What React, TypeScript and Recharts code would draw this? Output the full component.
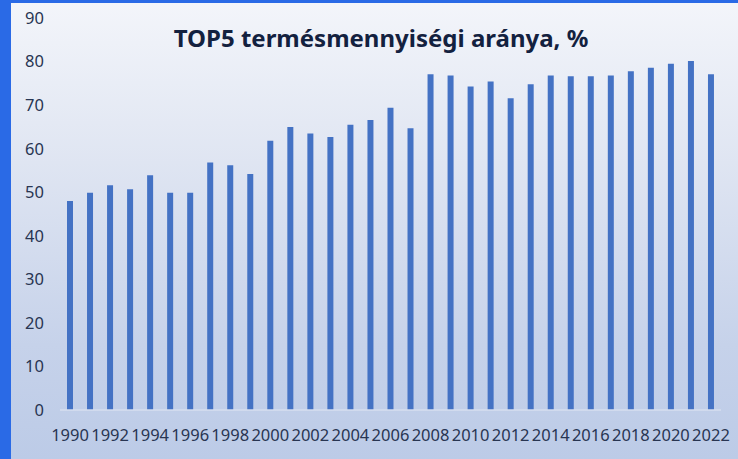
import { BarChart, Bar, XAxis, YAxis } from 'recharts'

const years = [
  '1990', '1991', '1992', '1993', '1994', '1995', '1996', '1997', '1998', '1999',
  '2000', '2001', '2002', '2003', '2004', '2005', '2006', '2007', '2008', '2009',
  '2010', '2011', '2012', '2013', '2014', '2015', '2016', '2017', '2018', '2019',
  '2020', '2021', '2022'
]

const shares = [
  48.0, 49.9, 51.6, 50.7, 53.9, 49.9, 49.9, 56.8, 56.2, 54.2,
  61.8, 65.0, 63.5, 62.7, 65.5, 66.6, 69.4, 64.7, 77.1, 76.8,
  74.3, 75.4, 71.6, 74.8, 76.8, 76.6, 76.6, 76.8, 77.8, 78.6,
  79.5, 80.1, 77.1
]

const yTicks = [0, 10, 20, 30, 40, 50, 60, 70, 80, 90]

const title = 'TOP5 termésmennyiségi aránya, %'

export default function App() {
  const data = years.map((year, i) => ({ year, share: shares[i] }))
  const font = '"Noto Sans", sans-serif'

  return (
    <div style={{ position: 'absolute', left: 0, top: 0, width: 738, height: 459, background: '#2a6ae6', overflow: 'hidden' }}>
      <div
        style={{
          position: 'absolute', left: 11, top: 3, width: 727, height: 456,
          background: 'linear-gradient(180deg, #f3f5fa 0%, #dfe5f2 35%, #c6d2ea 75%, #bccbe7 100%)'
        }}
      />
      <div
        style={{
          position: 'absolute', left: 0, top: 21, width: 762, textAlign: 'center',
          fontFamily: font, fontWeight: 700, fontSize: 24, color: '#13213f'
        }}
      >
        {title}
      </div>
      <div style={{ position: 'absolute', left: 0, top: 0 }}>
        <BarChart width={738} height={459} data={data} margin={{ top: 18, right: 17, bottom: 19, left: 0 }}>
          <XAxis
            dataKey="year"
            interval={1}
            tickLine={false}
            tickSize={0}
            tickMargin={19}
            height={30}
            axisLine={{ stroke: '#d6deef', strokeWidth: 1.5 }}
            tick={{ fill: '#283552', fontSize: 16.5, fontFamily: font }}
          />
          <YAxis
            domain={[0, 90]}
            ticks={yTicks}
            width={60}
            axisLine={false}
            tickLine={false}
            tickSize={0}
            tickMargin={16}
            tick={{ fill: '#283552', fontSize: 16.5, fontFamily: font }}
          />
          <Bar dataKey="share" fill="#4472c4" barSize={6} isAnimationActive={false} />
        </BarChart>
      </div>
    </div>
  )
}
